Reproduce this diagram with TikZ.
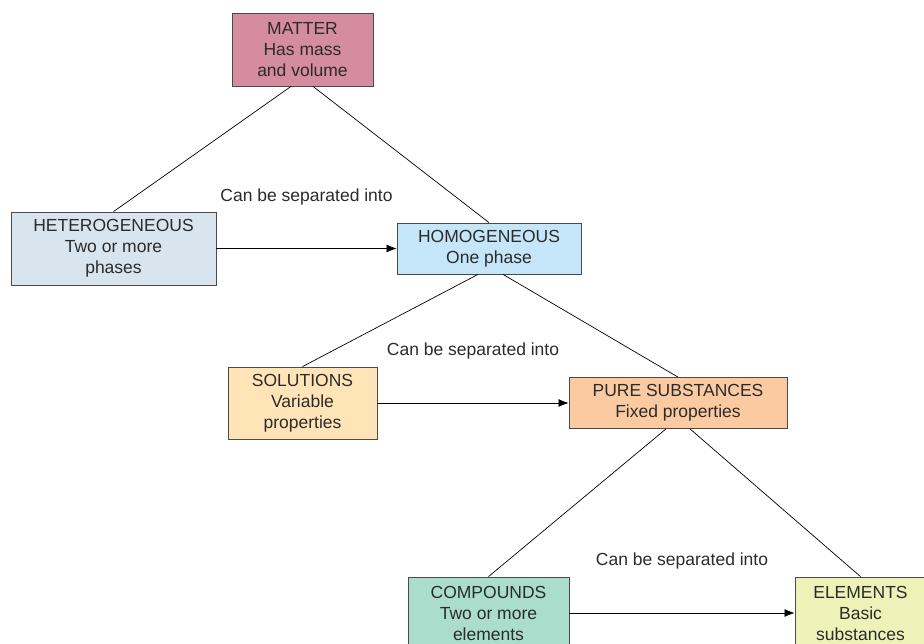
\documentclass[tikz,border=0pt]{standalone}
\usepackage{fontspec}
\setmainfont{Liberation Sans}
\usetikzlibrary{arrows.meta}

\definecolor{matterpink}{HTML}{D48C9E}
\definecolor{heteroblue}{HTML}{D9E5EE}
\definecolor{homoblue}{HTML}{C5E6F8}
\definecolor{solutionsyellow}{HTML}{FFE4B8}
\definecolor{pureorange}{HTML}{FCCAA0}
\definecolor{compoundsgreen}{HTML}{AADDCC}
\definecolor{elementsyellow}{HTML}{EEF2B8}
\definecolor{boxline}{HTML}{4A4A4A}
\definecolor{textgrey}{HTML}{2B2B2B}

\begin{document}
\begin{tikzpicture}[x=1pt, y=-1pt, >={Latex[length=10pt, width=8pt]},
    box/.style={draw=boxline, line width=0.8pt, rectangle, align=center, inner sep=2pt, text=textgrey, font=\fontsize{17.5}{21}\selectfont},
    sep/.style={text=textgrey, font=\fontsize{17.5}{21}\selectfont},
    link/.style={draw=black, line width=0.7pt}]
    \useasboundingbox (0,0) rectangle (924,644);
    \clip (0,0) rectangle (924,644);

    \node (Matter) [box, fill=matterpink, minimum width=141pt, minimum height=73pt] at (302.5,49.5) {MATTER\\Has mass\\and volume};
    \node (Heterogeneous) [box, fill=heteroblue, minimum width=205pt, minimum height=73pt] at (113.5,248.5) {HETEROGENEOUS\\Two or more\\phases};
    \node (Homogeneous) [box, fill=homoblue, minimum width=184pt, minimum height=51pt] at (489,248.5) {HOMOGENEOUS\\One phase};
    \node (Solutions) [box, fill=solutionsyellow, minimum width=149pt, minimum height=72pt] at (302.5,403) {SOLUTIONS\\Variable\\properties};
    \node (PureSubstances) [box, fill=pureorange, minimum width=218pt, minimum height=51pt] at (678,403) {PURE SUBSTANCES\\Fixed properties};
    \node (Compounds) [box, fill=compoundsgreen, minimum width=161pt, minimum height=72pt] at (488.5,613) {COMPOUNDS\\Two or more\\elements};
    \node (Elements) [box, fill=elementsyellow, minimum width=131pt, minimum height=72pt] at (860.5,613) {ELEMENTS\\Basic\\substances};

    \draw[link] ([xshift=-11.5pt]Matter.south) -- (Heterogeneous.north);
    \draw[link] ([xshift=10.5pt]Matter.south) -- (Homogeneous.north);
    \draw[link] ([xshift=-11pt]Homogeneous.south) -- (Solutions.north);
    \draw[link] ([xshift=14pt]Homogeneous.south) -- (PureSubstances.north);
    \draw[link] ([xshift=-12pt]PureSubstances.south) -- (Compounds.north);
    \draw[link] ([xshift=12pt]PureSubstances.south) -- (Elements.north);

    \draw[link, ->] (Heterogeneous) -- (Homogeneous) node (SepOne) [sep, midway, yshift=52pt] {Can be separated into};
    \draw[link, ->] (Solutions) -- (PureSubstances) node (SepTwo) [sep, midway, yshift=52pt] {Can be separated into};
    \draw[link, ->] (Compounds) -- (Elements) node (SepThree) [sep, midway, yshift=52pt] {Can be separated into};
\end{tikzpicture}
\end{document}
